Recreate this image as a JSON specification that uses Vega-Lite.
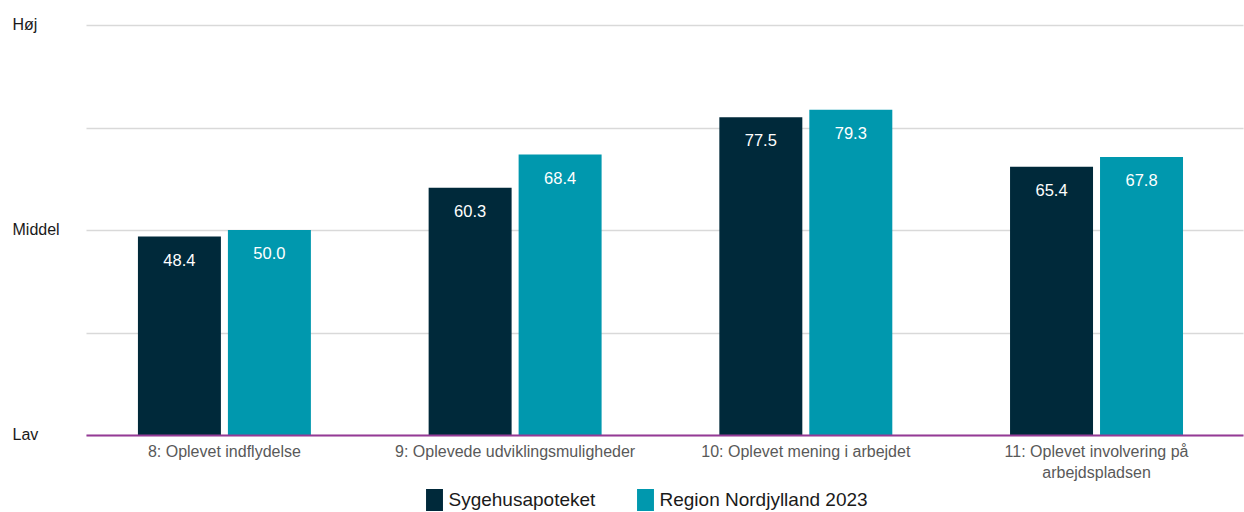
{
  "$schema": "https://vega.github.io/schema/vega-lite/v6.json",
  "width": 1157,
  "height": 410,
  "autosize": {"type": "none"},
  "padding": {"left": 86, "top": 25, "right": 1, "bottom": 77},
  "config": {"view": {"stroke": null}, "font": "Liberation Sans"},
  "data": {
    "values": [
      {"cat": "8: Oplevet indflydelse", "series": "Sygehusapoteket", "value": 48.4},
      {"cat": "8: Oplevet indflydelse", "series": "Region Nordjylland 2023", "value": 50.0},
      {"cat": "9: Oplevede udviklingsmuligheder", "series": "Sygehusapoteket", "value": 60.3},
      {"cat": "9: Oplevede udviklingsmuligheder", "series": "Region Nordjylland 2023", "value": 68.4},
      {"cat": "10: Oplevet mening i arbejdet", "series": "Sygehusapoteket", "value": 77.5},
      {"cat": "10: Oplevet mening i arbejdet", "series": "Region Nordjylland 2023", "value": 79.3},
      {"cat": "11: Oplevet involvering på|arbejdspladsen", "series": "Sygehusapoteket", "value": 65.4},
      {"cat": "11: Oplevet involvering på|arbejdspladsen", "series": "Region Nordjylland 2023", "value": 67.8}
    ]
  },
  "encoding": {
    "x": {
      "field": "cat",
      "type": "nominal",
      "sort": null,
      "scale": {"paddingInner": 0.405, "paddingOuter": 0.1925, "align": 0.464},
      "axis": {
        "title": null,
        "labelAngle": 0,
        "ticks": false,
        "domainColor": "#953a96",
        "domainWidth": 2,
        "labelFontSize": 16,
        "labelColor": "#595959",
        "labelPadding": 8,
        "labelLineHeight": 21,
        "labelLimit": 400,
        "labelExpr": "split(datum.label, '|')",
        "zindex": 1
      }
    },
    "xOffset": {
      "field": "series",
      "type": "nominal",
      "sort": ["Sygehusapoteket", "Region Nordjylland 2023"],
      "scale": {"paddingInner": 0.0778}
    },
    "y": {
      "field": "value",
      "type": "quantitative",
      "scale": {"domain": [0, 100]},
      "axis": {
        "title": null,
        "values": [0, 25, 50, 75, 100],
        "labelExpr": "datum.value == 100 ? 'Høj' : datum.value == 50 ? 'Middel' : datum.value == 0 ? 'Lav' : ''",
        "ticks": false,
        "domain": false,
        "gridColor": "#d9d9d9",
        "gridWidth": 1.5,
        "labelAlign": "left",
        "labelPadding": 74,
        "labelFontSize": 16,
        "labelColor": "#1a1a1a",
        "labelBaseline": "middle",
        "labelOffset": -1
      }
    }
  },
  "layer": [
    {
      "mark": {"type": "bar"},
      "encoding": {
        "color": {
          "field": "series",
          "type": "nominal",
          "scale": {"domain": ["Sygehusapoteket", "Region Nordjylland 2023"], "range": ["#00293a", "#0098ae"]},
          "legend": {
            "title": null,
            "orient": "none",
            "legendX": 337.5,
            "legendY": 464,
            "direction": "horizontal",
            "symbolType": "M-0.77,-1H0.77V1H-0.77Z",
            "symbolSize": 484,
            "symbolStrokeWidth": 0,
            "symbolOpacity": 1,
            "labelFontSize": 19,
            "labelColor": "#1a1a1a",
            "labelOffset": 3,
            "labelLimit": 400,
            "columnPadding": 39
          }
        }
      }
    },
    {
      "mark": {"type": "text", "baseline": "middle", "dy": 24, "color": "white", "fontSize": 16.5},
      "encoding": {
        "text": {"field": "value", "type": "quantitative", "format": ".1f"}
      }
    }
  ]
}
